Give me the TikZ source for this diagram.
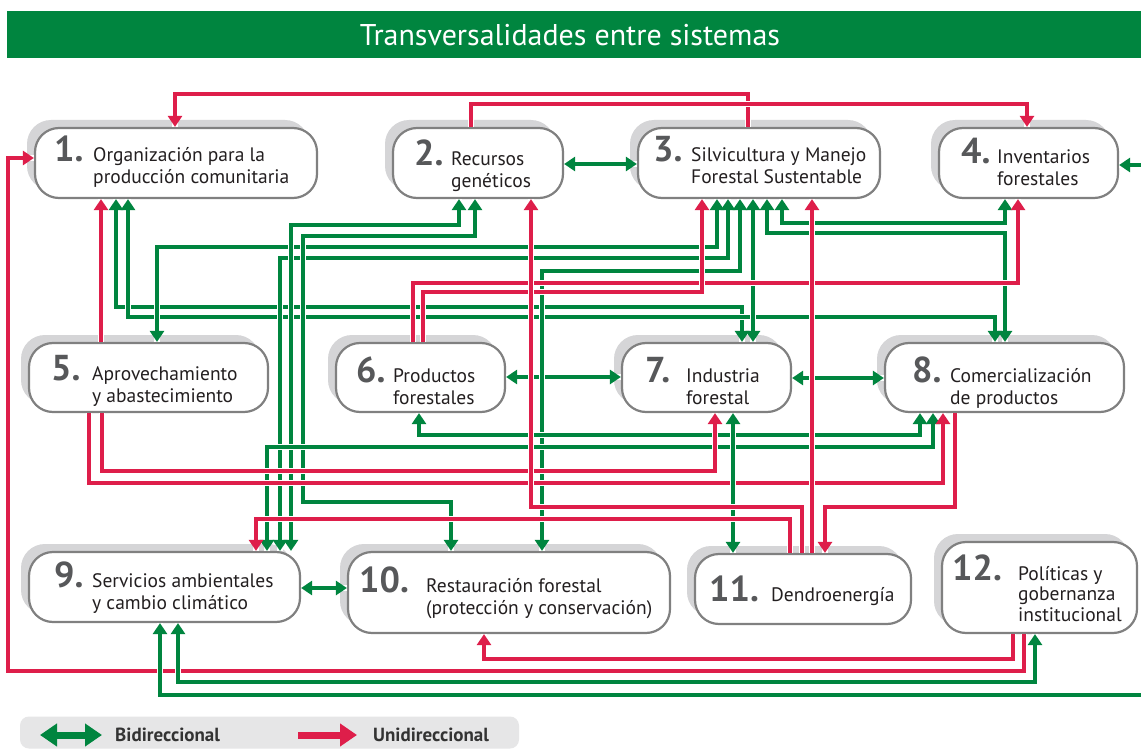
\documentclass[tikz,border=0pt]{standalone}
\usepackage{fontspec}
\setmainfont{PT Sans}
\usetikzlibrary{arrows.meta,shadows}
\definecolor{gr}{RGB}{0,133,63}
\definecolor{rd}{RGB}{222,30,74}
\definecolor{boxgray}{RGB}{128,128,128}
\definecolor{shadowgray}{RGB}{213,213,215}
\definecolor{numgray}{RGB}{87,88,90}
\definecolor{txtgray}{RGB}{35,31,32}
\definecolor{leggray}{RGB}{230,230,231}
\newcommand\numf{\fontsize{36}{36}\selectfont\bfseries\color{numgray}}
\newcommand\txtf{\fontsize{19.5}{22}\selectfont\color{txtgray}}
\newcommand\mylines[1]{\begin{tabular}[t]{@{}l@{}}#1\end{tabular}}
\tikzset{
  sysbox/.style={draw=boxgray, line width=2.2pt, fill=white, rounded corners=24pt, inner sep=0pt,
    general shadow={fill=shadowgray, shadow xshift=-8pt, shadow yshift=8pt}},
  numtxt/.style={anchor=base west, inner sep=0pt, font=\numf},
  boxtxt/.style={anchor=base west, inner sep=0pt, font=\txtf},
  >={Triangle[width=14pt,length=11pt]},
  gl/.style={draw=gr, line width=4.5pt, <->, preaction={draw=white, line width=6.5pt, arrows=-}},
  rl/.style={draw=rd, line width=4.5pt, ->, preaction={draw=white, line width=6.5pt, arrows=-}},
  legtxt/.style={anchor=base west, inner sep=0pt, font=\fontsize{19}{22}\selectfont\bfseries, text={rgb,255:red,51;green,51;blue,51}},
}
\begin{document}
\begin{tikzpicture}[x=1pt,y=-1pt]
\useasboundingbox (0,0) rectangle (1141,749);
\fill[white] (0,0) rectangle (1141,749);
% title
\fill[gr] (7,11) rectangle (1141,58);
\node[text=white, font=\fontsize{30}{32}\selectfont, inner sep=0pt] (title) at (570,35) {Transversalidades entre sistemas};

% boxes
\node[sysbox, minimum width=282pt, minimum height=70pt] (b1) at (176,163) {};
\node[sysbox, minimum width=170pt, minimum height=70pt] (b2) at (478,163) {};
\node[sysbox, minimum width=242pt, minimum height=70pt] (b3) at (759,163) {};
\node[sysbox, minimum width=179pt, minimum height=70pt] (b4) at (1028.5,163) {};
\node[sysbox, minimum width=239pt, minimum height=69pt] (b5) at (148.5,377.5) {};
\node[sysbox, minimum width=169pt, minimum height=69pt] (b6) at (420.5,377.5) {};
\node[sysbox, minimum width=169pt, minimum height=69pt] (b7) at (706.5,377.5) {};
\node[sysbox, minimum width=239pt, minimum height=69pt] (b8) at (1004.5,377.5) {};
\node[sysbox, minimum width=271pt, minimum height=70pt] (b9) at (164.5,587) {};
\node[sysbox, minimum width=322pt, minimum height=81pt] (b10) at (509,592.5) {};
\node[sysbox, minimum width=216pt, minimum height=70pt] (b11) at (803,589) {};
\node[sysbox, minimum width=195pt, minimum height=91pt] (b12) at (1039.5,587.5) {};

% texts
\node[numtxt] (n1) at (54,162) {1.};
\node[boxtxt] (t1) at (93,162) {\mylines{Organización para la\\producción comunitaria}};
\node[numtxt] (n2) at (414,165) {2.};
\node[boxtxt] (t2) at (451,165) {\mylines{Recursos\\genéticos}};
\node[numtxt] (n3) at (653,162) {3.};
\node[boxtxt] (t3) at (691,162) {\mylines{Silvicultura y Manejo\\Forestal Sustentable}};
\node[numtxt] (n4) at (961,164) {4.};
\node[boxtxt] (t4) at (997,164) {\mylines{Inventarios\\forestales}};
\node[numtxt] (n5) at (51,380) {5.};
\node[boxtxt] (t5) at (92,380) {\mylines{Aprovechamiento\\y abastecimiento}};
\node[numtxt] (n6) at (356,382) {6.};
\node[boxtxt] (t6) at (393,382) {\mylines{Productos\\forestales}};
\node[numtxt] (n7) at (645,382) {7.};
\node[boxtxt] (t7) at (686,382) {\mylines{Industria\\forestal}};
\node[numtxt] (n8) at (912,382) {8.};
\node[boxtxt] (t8) at (950,382) {\mylines{Comercialización\\de productos}};
\node[numtxt] (n9) at (54,587) {9.};
\node[boxtxt] (t9) at (92,587) {\mylines{Servicios ambientales\\y cambio climático}};
\node[numtxt] (n10) at (359,592) {10.};
\node[boxtxt] (t10) at (426,592) {\mylines{Restauración forestal\\(protección y conservación)}};
\node[numtxt] (n11) at (709,601) {11.};
\node[boxtxt] (t11) at (771,601) {Dendroenergía};
\node[numtxt] (n12) at (952,580) {12.};
\node[boxtxt, font=\fontsize{19.5}{20.5}\selectfont\color{txtgray}] (t12) at (1018,580) {\mylines{Políticas y\\gobernanza\\institucional}};

% horizontal neighbours
\draw[gl] (b2.east |- 0,164) -- (b3.west |- 0,164);
\draw[gl] (b6.east |- 0,377) -- (b7.west |- 0,377);
\draw[gl] (b7.east |- 0,378) -- (b8.west |- 0,378);
\draw[gl] (b9.east |- 0,588) -- (b10.west |- 0,588);

% top loops
\draw[rl] (748,0 |- b3.north) -- (748,94) -- (175,94) -- (175,0 |- b1.north);
\draw[rl] (471,0 |- b2.north) -- (471,104) -- (1027,104) -- (1027,0 |- b4.north);

% upper band
\draw[gl] (116,0 |- b1.south) -- (116,307) -- (742,307) -- (742,0 |- b7.north);
\draw[gl] (128,0 |- b1.south) -- (128,317) -- (995,317) -- (995,0 |- b8.north);
\draw[rl] (101,0 |- b5.north) -- (101,0 |- b1.south);
\draw[gl] (717,0 |- b3.south) -- (717,247) -- (157,247) -- (157,0 |- b5.north);
\draw[gl] (728,0 |- b3.south) -- (728,258) -- (280,258) -- (280,0 |- b9.north);
\draw[gl] (459,0 |- b2.south) -- (459,225) -- (291,225) -- (291,0 |- b9.north);
\draw[gl] (475,0 |- b2.south) -- (475,236) -- (303,236) -- (303,502) -- (451,502) -- (451,0 |- b10.north);
\draw[gl] (740,0 |- b3.south) -- (740,271) -- (542,271) -- (542,0 |- b10.north);
\draw[gl] (753,0 |- b3.south) -- (753,0 |- b7.north);
\draw[gl] (767,0 |- b3.south) -- (767,233) -- (1005,233) -- (1005,0 |- b8.north);
\draw[gl] (782,0 |- b3.south) -- (782,223) -- (1005,223) -- (1005,0 |- b4.south);
\draw[rl] (413,0 |- b6.north) -- (413,283) -- (1018,283) -- (1018,0 |- b4.south);
\draw[rl] (423,0 |- b6.north) -- (423,292) -- (702,292) -- (702,0 |- b3.south);

% lower band
\draw[gl] (419,0 |- b6.south) -- (419,435) -- (920,435) -- (920,0 |- b8.south);
\draw[gl] (933,0 |- b8.south) -- (933,447) -- (267,447) -- (267,0 |- b9.north);
\draw[rl] (102,0 |- b5.south) -- (102,471) -- (715,471) -- (715,0 |- b7.south);
\draw[rl] (89,0 |- b5.south) -- (89,483) -- (943,483) -- (943,0 |- b8.south);
\draw[gl] (733,0 |- b7.south) -- (733,0 |- b11.north);
\draw[rl] (955,0 |- b8.south) -- (955,507) -- (825,507) -- (825,0 |- b11.north);
\draw[rl] (802,0 |- b11.north) -- (802,507) -- (531,507) -- (531,0 |- b2.south);
\draw[rl] (790,0 |- b11.north) -- (790,519) -- (256,519) -- (256,0 |- b9.north);
\draw[rl] (812,0 |- b11.north) -- (812,0 |- b3.south);

% bottom loops
\draw[rl] (1013,0 |- b12.south) -- (1013,659) -- (484,659) -- (484,0 |- b10.south);
\draw[rl] (1024,0 |- b12.south) -- (1024,671) -- (8,671) -- (8,158) -- (b1.west |- 0,158);
\draw[gl] (1035,0 |- b12.south) -- (1035,682) -- (178,682) -- (178,0 |- b9.south);
\draw[gl] (b4.east |- 0,165) -- (1165,165) -- (1165,695) -- (160,695) -- (160,0 |- b9.south);

% legend
\node[fill=leggray, rounded corners=9pt, minimum width=499pt, minimum height=32pt, inner sep=0pt] (leg) at (269.5,732.5) {};
\coordinate (lga) at (40,735);
\coordinate (lgb) at (102,735);
\coordinate (lgc) at (298,735);
\coordinate (lgd) at (357,735);
\draw[gr, line width=7pt, {Triangle[width=22pt,length=17pt]}-{Triangle[width=22pt,length=17pt]}] (lga) -- (lgb);
\draw[rd, line width=7pt, -{Triangle[width=22pt,length=17pt]}] (lgc) -- (lgd);
\node[legtxt] (lt1) at (115,741) {Bidireccional};
\node[legtxt] (lt2) at (373,741) {Unidireccional};
\end{tikzpicture}
\end{document}
